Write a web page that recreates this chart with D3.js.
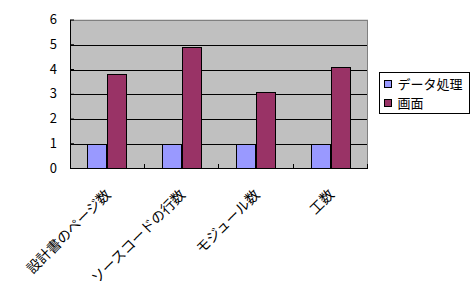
<!DOCTYPE html>
<html>
<head>
<meta charset="utf-8">
<script src="https://cdn.jsdelivr.net/npm/d3@7"></script>
<style>
  body { margin: 0; background: #fff; }
  text { font-family: "Noto Sans CJK JP", sans-serif; }
</style>
</head>
<body>
<div class="chart"></div>
<script>
var svgWidth = 472;
var svgHeight = 287;

// chart data
var categories = ["設計書のページ数", "ソースコードの行数", "モジュール数", "工数"];
var seriesNames = ["データ処理", "画面"];
var dataProcessing = [1, 1, 1, 1];
var screenValues = [3.8, 4.9, 3.1, 4.1];
var yTicks = [0, 1, 2, 3, 4, 5, 6];
var colors = ["#9999ff", "#993366"];

var margin = { top: 19.5, right: 104, bottom: 119, left: 70 };
var width = svgWidth - margin.left - margin.right;
var height = svgHeight - margin.top - margin.bottom;

var svg = d3.select(".chart").append("svg")
  .attr("width", svgWidth)
  .attr("height", svgHeight);

var chartGroup = svg.append("g")
  .attr("transform", `translate(${margin.left}, ${margin.top})`);

var xScale = d3.scaleBand()
  .domain(categories)
  .range([0, width]);

var xInner = d3.scaleBand()
  .domain(seriesNames)
  .range([0, xScale.bandwidth()])
  .paddingOuter(0.82);

var yScale = d3.scaleLinear()
  .domain([0, 6])
  .range([height, 0]);

// plot area background
chartGroup.append("rect")
  .attr("width", width)
  .attr("height", height)
  .attr("fill", "#c0c0c0");

// gridlines
chartGroup.selectAll(".grid")
  .data(yTicks.slice(1, -1))
  .enter()
  .append("line")
  .attr("x1", 0)
  .attr("x2", width)
  .attr("y1", d => Math.round(yScale(d)) + 0.5)
  .attr("y2", d => Math.round(yScale(d)) + 0.5)
  .attr("stroke", "#000")
  .attr("shape-rendering", "crispEdges");

// top and right border
chartGroup.append("path")
  .attr("d", `M0,0.5H${width - 0.5}V${height}`)
  .attr("fill", "none")
  .attr("stroke", "#808080")
  .attr("shape-rendering", "crispEdges");

// bars
var rows = categories.map((c, i) => ({ cat: c, vals: [dataProcessing[i], screenValues[i]] }));

var groups = chartGroup.selectAll(".group")
  .data(rows)
  .enter()
  .append("g")
  .attr("transform", d => `translate(${xScale(d.cat)}, 0)`);

groups.selectAll("rect")
  .data(d => d.vals.map((v, j) => ({ name: seriesNames[j], v: v, j: j })))
  .enter()
  .append("rect")
  .attr("x", d => Math.round(xInner(d.name)) + 0.5)
  .attr("y", d => Math.round(yScale(d.v)) + 0.5)
  .attr("width", Math.round(xInner.bandwidth()) - 1)
  .attr("height", d => height - Math.round(yScale(d.v)) - 0.5)
  .attr("fill", d => colors[d.j])
  .attr("stroke", "#000")
  .attr("shape-rendering", "crispEdges");

// y axis
var leftAxis = d3.axisLeft(yScale)
  .tickValues(yTicks)
  .tickFormat(d3.format("d"))
  .tickSizeInner(-4)
  .tickSizeOuter(0)
  .tickPadding(13);

var yAxis = chartGroup.append("g").call(leftAxis);
yAxis.select(".domain").attr("stroke", "#000");
yAxis.selectAll("text")
  .attr("font-family", "Arial, 'Liberation Sans', sans-serif")
  .attr("font-size", 13)
  .attr("fill", "#000");

// x axis with inward ticks at category borders
chartGroup.append("line")
  .attr("x1", 0).attr("x2", width)
  .attr("y1", height + 0.5).attr("y2", height + 0.5)
  .attr("stroke", "#000")
  .attr("shape-rendering", "crispEdges");

chartGroup.selectAll(".xtick")
  .data(categories)
  .enter()
  .append("line")
  .attr("x1", d => Math.round(xScale(d) + xScale.bandwidth()) - 0.5)
  .attr("x2", d => Math.round(xScale(d) + xScale.bandwidth()) - 0.5)
  .attr("y1", height)
  .attr("y2", height - 4)
  .attr("stroke", "#000")
  .attr("shape-rendering", "crispEdges");

// rotated category labels
chartGroup.selectAll(".xlabel")
  .data(categories)
  .enter()
  .append("text")
  .attr("text-anchor", "end")
  .attr("font-size", 14)
  .attr("transform", d => `translate(${xScale(d) + xScale.bandwidth() / 2 + 1}, ${height + 24}) rotate(-45)`)
  .attr("dy", "0.35em")
  .text(d => d);

// legend
var legend = svg.append("g")
  .attr("transform", "translate(379.5, 72.5)");

legend.append("rect")
  .attr("width", 90)
  .attr("height", 41)
  .attr("fill", "#fff")
  .attr("stroke", "#000")
  .attr("shape-rendering", "crispEdges");

var items = legend.selectAll(".item")
  .data(seriesNames)
  .enter()
  .append("g")
  .attr("transform", (d, i) => `translate(5, ${7.5 + i * 19})`);

items.append("rect")
  .attr("width", 7)
  .attr("height", 7)
  .attr("fill", (d, i) => colors[i])
  .attr("stroke", "#000")
  .attr("shape-rendering", "crispEdges");

items.append("text")
  .attr("x", 13)
  .attr("y", 4)
  .attr("dy", "0.35em")
  .attr("font-size", 13)
  .text(d => d);
</script>
</body>
</html>
